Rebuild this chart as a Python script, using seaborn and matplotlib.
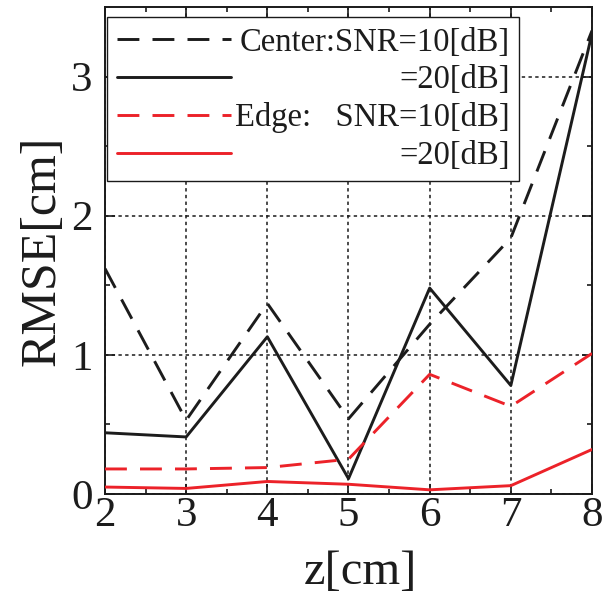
import numpy as np
import pandas as pd
import matplotlib
matplotlib.use("Agg")
import matplotlib.pyplot as plt
from matplotlib.ticker import MultipleLocator
import seaborn as sns

# ---- data ----
z_cm = [2, 3, 4, 5, 6, 7, 8]
center_snr10 = [1.62, 0.53, 1.37, 0.54, 1.22, 1.84, 3.33]
center_snr20 = [0.44, 0.41, 1.13, 0.11, 1.48, 0.78, 3.31]
edge_snr10 = [0.18, 0.18, 0.19, 0.25, 0.86, 0.63, 1.01]
edge_snr20 = [0.05, 0.04, 0.09, 0.07, 0.03, 0.06, 0.32]
labels = ["Center:SNR=10[dB]", "=20[dB]", "Edge:   SNR=10[dB]", "=20[dB]"]
x_ticks = [2, 3, 4, 5, 6, 7, 8]
y_ticks = [0, 1, 2, 3]
x_label = "z[cm]"
y_label = "RMSE[cm]"

sns.set_theme(style="ticks")
plt.rcParams["font.family"] = ["Liberation Serif", "DejaVu Serif"]
plt.rcParams["mathtext.fontset"] = "stix"

BLACK = "#1c1c1c"
RED = "#ec2229"

fig = plt.figure(figsize=(6.10, 5.96), dpi=100)
ax = fig.add_axes([105 / 610, 1 - 494 / 596, 487 / 610, 487 / 596])

series = [
    (center_snr10, BLACK, (7.5, 4.5)),
    (center_snr20, BLACK, None),
    (edge_snr10, RED, (7.5, 4.5)),
    (edge_snr20, RED, None),
]
handles = []
for vals, col, dash, lab in [(s[0], s[1], s[2], l) for s, l in zip(series, labels)]:
    df = pd.DataFrame({"z": z_cm, "rmse": vals})
    sns.lineplot(data=df, x="z", y="rmse", ax=ax, color=col, lw=2.1, label=lab,
                 legend=False, zorder=3)
    line = ax.get_lines()[-1]
    if dash is not None:
        line.set_dashes(dash)
    handles.append(line)

ax.set_xlim(2, 8)
ax.set_ylim(0, 3.5)
ax.set_xticks(x_ticks)
ax.set_yticks(y_ticks)
ax.xaxis.set_minor_locator(MultipleLocator(0.5))
ax.yaxis.set_minor_locator(MultipleLocator(0.5))
ax.tick_params(which="both", direction="in", top=True, right=True, color="k", width=1.2)
ax.tick_params(which="major", length=7, labelsize=31, labelcolor=BLACK)
ax.tick_params(which="minor", length=3.5)
ax.tick_params(axis="y", which="major", pad=9)
ax.tick_params(axis="x", which="major", pad=2)
ax.grid(True, which="major", color="k", linestyle=(0, (2.2, 2.2)), lw=1.1)
for sp in ax.spines.values():
    sp.set_color("k")
    sp.set_linewidth(1.4)

ax.set_xlabel(x_label, fontsize=35, color=BLACK, labelpad=2)
ax.set_ylabel(y_label, fontsize=36, color=BLACK, labelpad=4)
ax.xaxis.set_label_coords(0.525, -0.115)

leg = ax.legend(handles, labels, loc="upper left", bbox_to_anchor=(0.004, 0.979),
                borderaxespad=0, fontsize=23.5, frameon=True, fancybox=False,
                edgecolor="k", framealpha=1, handlelength=3.5, handletextpad=0.12,
                borderpad=0.3, labelspacing=0.22)
leg.get_frame().set_linewidth(1.0)
for t in leg.get_texts():
    t.set_color(BLACK)

# right-align the legend labels
fig.canvas.draw()
renderer = fig.canvas.get_renderer()
widths = [t.get_window_extent(renderer).width for t in leg.get_texts()]
wmax = max(widths)
for t, w in zip(leg.get_texts(), widths):
    t.set_x(wmax - w)

fig.savefig("out.png", dpi=100)
